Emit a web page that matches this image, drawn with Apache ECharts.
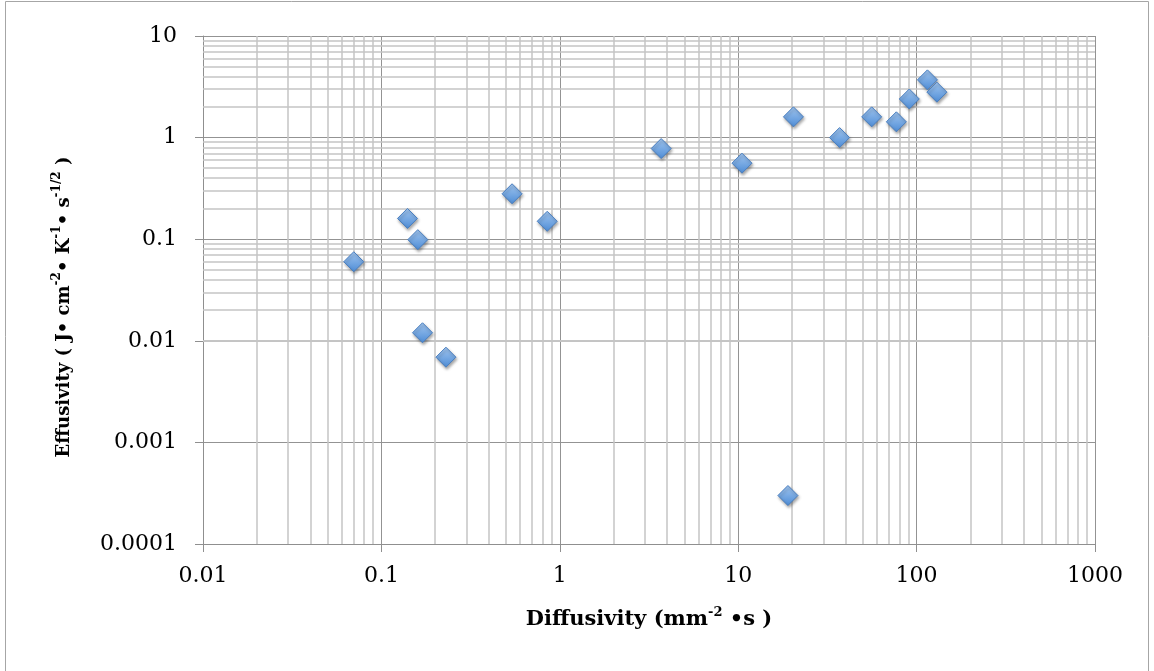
<!DOCTYPE html>
<html>
<head>
<meta charset="utf-8">
<script src="https://cdn.jsdelivr.net/npm/echarts@6/dist/echarts.min.js"></script>
<style>
html,body{margin:0;padding:0;background:#fff;}
#c{width:1154px;height:671px;}
</style>
</head>
<body>
<div id="c"></div>
<script>
// Diffusivity (x) values, mm^-2·s
const diffusivity = [0.07, 0.14, 0.16, 0.17, 0.23, 0.54, 0.85, 3.7, 10.5, 19, 20.4, 37, 56, 77, 91, 115, 130];
// Effusivity (y) values, J·cm^-2·K^-1·s^-1/2
const effusivity = [0.06, 0.16, 0.099, 0.012, 0.0069, 0.28, 0.15, 0.78, 0.56, 0.0003, 1.6, 1.0, 1.6, 1.43, 2.4, 3.7, 2.8];

const xTickLabels = ['0.01', '0.1', '1', '10', '100', '1000'];
const yTickLabels = ['0.0001', '0.001', '0.01', '0.1', '1', '10'];
const xDecades = [0.01, 0.1, 1, 10, 100];
const yDecades = [0.0001, 0.001, 0.01, 0.1, 1];
const minorMultipliers = [2, 3, 4, 5, 6, 7, 8, 9];

const points = diffusivity.map((d, i) => [d, effusivity[i]]);

const minorLines = [];
xDecades.forEach(d => minorMultipliers.forEach(m => minorLines.push({ xAxis: +(d * m).toPrecision(6) })));
yDecades.forEach(d => minorMultipliers.forEach(m => minorLines.push({ yAxis: +(d * m).toPrecision(6) })));

const serif = '"DejaVu Serif", "Liberation Serif", serif';
const axisGrey = '#8f8f8f';

function richTitle(size, supSize, lh) {
  return {
    b: { fontFamily: serif, fontWeight: 'bold', fontSize: size, color: '#000', lineHeight: lh },
    s: { fontFamily: serif, fontWeight: 'bold', fontSize: supSize, color: '#000', lineHeight: lh, verticalAlign: 'top' }
  };
}

const chart = echarts.init(document.getElementById('c'), null, { renderer: 'canvas' });
chart.setOption({
  backgroundColor: '#ffffff',
  animation: false,
  graphic: [{
    type: 'rect',
    shape: { x: 5.5, y: 1.5, width: 1143, height: 720 },
    style: { fill: 'none', stroke: '#a6a6a6', lineWidth: 1 },
    silent: true,
    z: -10
  }],
  grid: { left: 203, right: 59, top: 36, bottom: 127 },
  xAxis: {
    type: 'log', logBase: 10, min: 0.01, max: 1000,
    name: '{b|Diffusivity (mm}{s|-2}{b| •s )}',
    nameLocation: 'middle', nameGap: 62,
    nameTextStyle: { rich: richTitle(21, 13, 28) },
    axisLine: { lineStyle: { color: axisGrey, width: 1 } },
    axisTick: { show: true, length: 8, lineStyle: { color: axisGrey } },
    axisLabel: {
      fontFamily: serif, fontSize: 22, color: '#000', margin: 21,
      formatter: (v, i) => xTickLabels[i]
    },
    splitLine: { show: true, lineStyle: { color: '#939393', width: 1 } }
  },
  yAxis: {
    type: 'log', logBase: 10, min: 0.0001, max: 10,
    name: '{b|Effusivity ( J• cm}{s|-2}{b|• K}{s|-1}{b|• s}{s|-1/2}{b| )}',
    nameLocation: 'middle', nameGap: 126, nameRotate: 90,
    nameTextStyle: { rich: richTitle(18, 12, 26), padding: [0, 34, 0, 0] },
    axisLine: { show: true, lineStyle: { color: axisGrey, width: 1 } },
    axisTick: { show: true, length: 8, lineStyle: { color: axisGrey } },
    axisLabel: {
      fontFamily: serif, fontSize: 22, color: '#000', margin: 26,
      formatter: (v, i) => yTickLabels[i]
    },
    splitLine: { show: true, lineStyle: { color: '#939393', width: 1 } }
  },
  series: [
    {
      type: 'scatter',
      data: [],
      z: 1,
      silent: true,
      markLine: {
        silent: true,
        symbol: ['none', 'none'],
        label: { show: false },
        lineStyle: { color: '#c4c4c4', width: 1.5, type: 'solid' },
        emphasis: { disabled: true },
        animation: false,
        data: minorLines
      }
    },
    {
      type: 'scatter',
      z: 5,
      data: points,
      symbol: 'diamond',
      symbolSize: 20,
      itemStyle: {
        color: new echarts.graphic.LinearGradient(0, 0, 0, 1, [
          { offset: 0, color: '#a3c7f0' },
          { offset: 1, color: '#4d8cd6' }
        ]),
        borderColor: '#4a7fc0',
        borderWidth: 1,
        shadowColor: 'rgba(0,0,0,0.35)',
        shadowBlur: 3,
        shadowOffsetX: 1,
        shadowOffsetY: 2,
        opacity: 1
      }
    }
  ]
});
</script>
</body>
</html>
